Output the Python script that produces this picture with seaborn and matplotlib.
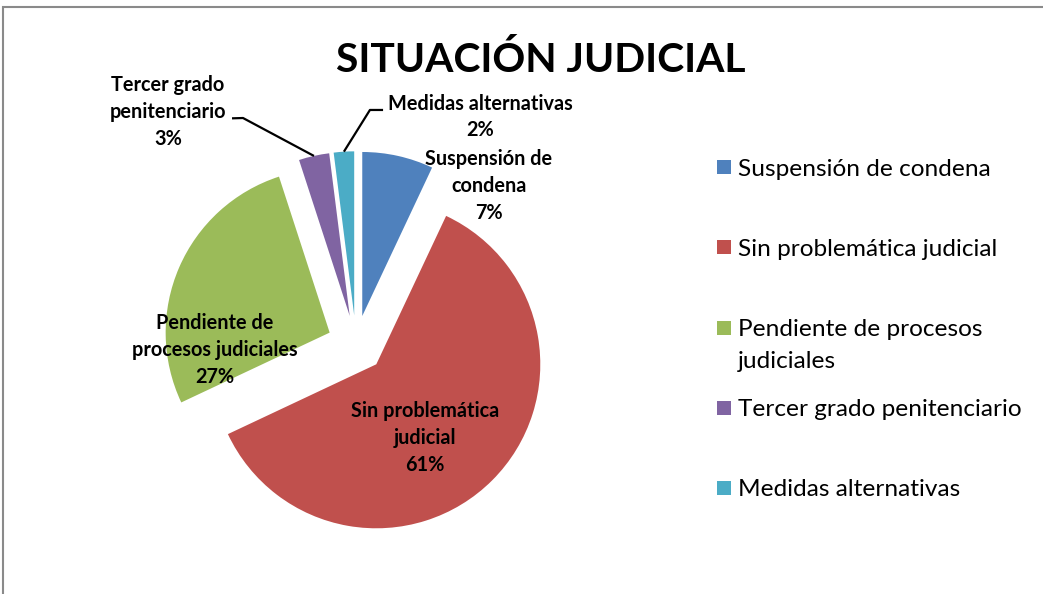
import numpy as np
import matplotlib
matplotlib.use("Agg")
import matplotlib.pyplot as plt
from matplotlib.patches import Rectangle
import seaborn as sns

# ---- data ----
categories = ["Suspensión de condena", "Sin problemática judicial",
              "Pendiente de procesos judiciales", "Tercer grado penitenciario",
              "Medidas alternativas"]
values = [7, 61, 27, 3, 2]
slice_labels = ["Suspensión de\ncondena\n7%", "Sin problemática\njudicial\n61%",
                "Pendiente de\nprocesos judiciales\n27%", "Tercer grado\npenitenciario\n3%",
                "Medidas alternativas\n2%"]
legend_labels = ["Suspensión de condena", "Sin problemática judicial",
                 "Pendiente de procesos\njudiciales", "Tercer grado penitenciario",
                 "Medidas alternativas"]
title = "SITUACIÓN JUDICIAL"
colors = ["#4F81BD", "#C0504D", "#9BBB59", "#8064A2", "#4BACC6"]

sns.set_theme(style="white")
plt.rcParams["font.family"] = ["Lato", "DejaVu Sans"]
palette = sns.color_palette(colors)

W, H = 1043, 594
fig = plt.figure(figsize=(W / 100, H / 100), dpi=100)
fig.patch.set_facecolor("white")

# chart border (top and left visible)
fig.add_artist(Rectangle((2.5 / W, -0.1), 1.2, (H - 7) / H + 0.1,
                         transform=fig.transFigure, fill=False,
                         edgecolor="#8a8a8a", linewidth=1.5))

R = 164.0  # px per data unit
cx, cy = 356, 344
ax = fig.add_axes([(cx - 1.5 * R) / W, (H - cy - 1.5 * R) / H, 3 * R / W, 3 * R / H])
explode = [0.175] * len(values)
wedges, _ = ax.pie(values, colors=palette, startangle=90, counterclock=False,
                   explode=explode, wedgeprops=dict(linewidth=0))
ax.set_xlim(-1.5, 1.5)
ax.set_ylim(-1.5, 1.5)
ax.set_aspect("equal")
ax.axis("off")

# label positions (data coords) - layout only
label_pos = [(0.811, 0.963), (0.421, -0.573), (-0.860, -0.037),
             (-1.146, 1.415), (0.756, 1.384)]
for i, (lab, (x, y)) in enumerate(zip(slice_labels, label_pos)):
    ax.text(x, y, lab, ha="center", va="center", fontsize=14.3,
            fontweight="bold", color="black", linespacing=1.42, clip_on=False)

# leader lines for small slices, ending at wedge outer arc midpoint
leader_start = {3: [(-0.756, 1.376), (-0.689, 1.378)],
                4: [(0.165, 1.427), (0.085, 1.427)]}
for i, pts in leader_start.items():
    w = wedges[i]
    mid = np.deg2rad((w.theta1 + w.theta2) / 2)
    ex, ey = w.center[0] + w.r * np.cos(mid), w.center[1] + w.r * np.sin(mid)
    xs = [p[0] for p in pts] + [ex]
    ys = [p[1] for p in pts] + [ey]
    ax.plot(xs, ys, color="black", linewidth=1.6, clip_on=False,
            solid_capstyle="butt")

# title
fig.text(541 / W, 1 - 60 / H, title, ha="center", va="center",
         fontsize=29.3, fontweight="bold", color="black")

# legend (manual, Excel-like even spacing)
for i, (lab, c) in enumerate(zip(legend_labels, palette)):
    yc = 167 + 80.25 * i
    fig.add_artist(Rectangle((717 / W, 1 - (yc + 7) / H), 14 / W, 14 / H,
                             transform=fig.transFigure, facecolor=c,
                             edgecolor="none"))
    for j, line in enumerate(lab.split("\n")):
        fig.text(738 / W, 1 - (yc + 31.5 * j) / H, line, ha="left",
                 va="center_baseline", fontsize=17.6, color="black")

fig.savefig("out.png", dpi=100, facecolor="white")
